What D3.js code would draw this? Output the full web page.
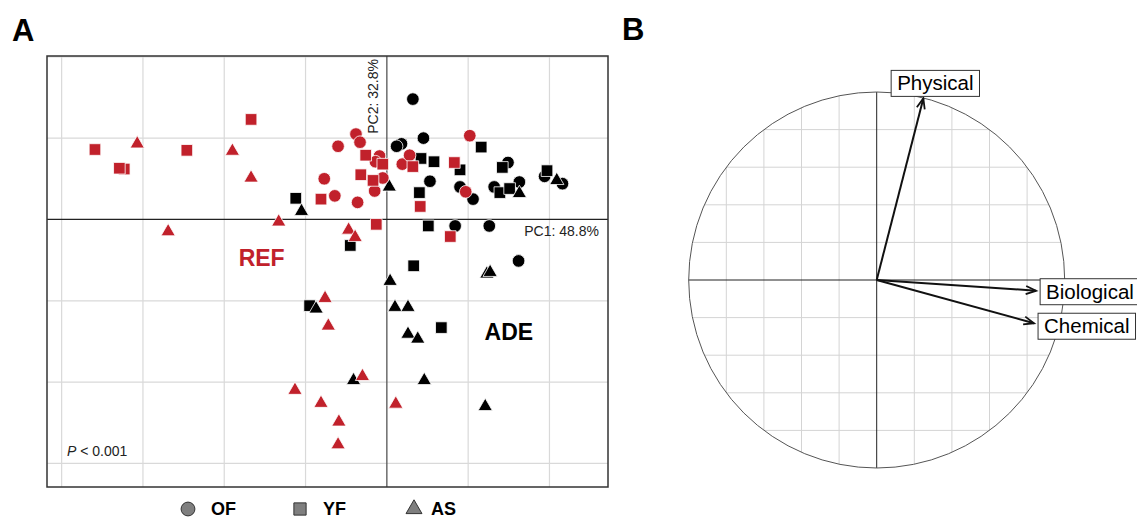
<!DOCTYPE html>
<html>
<head>
<meta charset="utf-8">
<script src="https://cdn.jsdelivr.net/npm/d3@7"></script>
<style>
  body { margin: 0; background: #fff; }
  svg { display: block; font-family: 'Liberation Sans', Arial, sans-serif; }
</style>
</head>
<body>
<svg id="chart" width="1137" height="520"></svg>
<script>
// PCA scores [PC1, PC2], by site (REF / ADE) and stand type (OF / YF / AS)
const refOF = [[-0.38,1.05],[-0.33,0.95],[-0.60,0.90],[-0.09,0.78],[-0.14,0.71],[0.19,0.68],[0.28,0.79],
  [-0.05,0.51],[-0.15,0.35],[-0.77,0.50],[-0.64,0.29],[-0.36,0.21],[1.02,1.03],[0.97,0.34]]
const refYF = [[-3.59,0.86],[-3.23,0.62],[-3.29,0.63],[-2.46,0.85],[-1.67,1.23],[-0.26,0.79],[-0.05,0.68],
  [-0.32,0.55],[-0.17,0.48],[-0.81,0.25],[0.32,0.65],[0.41,0.16],[0.83,0.70],[-0.13,-0.06],[0.78,-0.21]]
const refAS = [[-3.07,0.93],[-1.90,0.84],[-1.67,0.51],[-2.69,-0.15],[-1.33,-0.03],[-0.47,-0.13],[-0.39,-0.22],
  [-0.76,-0.97],[-0.72,-1.31],[-0.30,-1.93],[-1.13,-2.10],[-0.81,-2.26],[0.11,-2.27],[-0.59,-2.49],[-0.60,-2.77]]
const adeOF = [[0.32,1.48],[0.45,1.00],[0.18,0.93],[0.12,0.90],[0.53,0.47],[0.90,0.40],[1.06,0.25],[1.49,0.70],
  [1.32,0.40],[1.63,0.46],[1.94,0.53],[2.16,0.44],[0.84,-0.08],[1.26,-0.08],[1.62,-0.51]]
const adeYF = [[-1.12,0.26],[0.42,0.75],[0.58,0.71],[1.16,0.89],[0.90,0.61],[0.40,0.33],[1.42,0.64],[1.39,0.33],
  [1.51,0.38],[1.97,0.60],[0.51,-0.08],[-0.45,-0.32],[0.33,-0.57],[-0.95,-1.06],[0.67,-1.33]]
const adeAS = [[-1.05,0.10],[0.03,0.40],[1.63,0.32],[2.09,0.48],[1.23,-0.67],[1.27,-0.65],[0.04,-0.76],
  [-0.87,-1.10],[0.10,-1.08],[0.26,-1.08],[0.26,-1.41],[0.38,-1.47],[-0.41,-1.98],[0.46,-1.98],[1.21,-2.30]]

const standTypes = ['OF', 'YF', 'AS']
const siteLabels = [{ name: 'REF', x: -1.54, y: -0.57 }, { name: 'ADE', x: 1.50, y: -1.48 }]
const gridA = [-4, -3, -2, -1, 0, 1, 2]
const gridAy = [2, 1, 0, -1, -2, -3]
const axisPct = { pc1: 'PC1: 48.8%', pc2: 'PC2: 32.8%' }

// correlation circle (panel B)
const varNames = ['Physical', 'Biological', 'Chemical']
const varPC1 = [0.248, 0.848, 0.837]
const varPC2 = [0.966, -0.057, -0.230]
const gridB = [-0.8, -0.6, -0.4, -0.2, 0, 0.2, 0.4, 0.6, 0.8]

const red = '#c1212b'
const svg = d3.select('#chart')

// ---------- panel A ----------
const aLeft = 47, aRight = 608, aTop = 56, aBottom = 487
let x = d3.scaleLinear().domain([-4.18, 2.72]).range([aLeft, aRight])
let y = d3.scaleLinear().domain([-3.29, 2.01]).range([aBottom, aTop])

let gA = svg.append('g')
gA.selectAll('line.gx').data(gridA.filter(d => d !== 0)).enter().append('line')
    .attr('x1', d => x(d)).attr('x2', d => x(d)).attr('y1', aTop).attr('y2', aBottom)
    .attr('stroke', '#d9d9d9').attr('stroke-width', 1.2)
gA.selectAll('line.gy').data(gridAy.filter(d => d !== 0)).enter().append('line')
    .attr('y1', d => y(d)).attr('y2', d => y(d)).attr('x1', aLeft).attr('x2', aRight)
    .attr('stroke', '#d9d9d9').attr('stroke-width', 1.2)
gA.append('line').attr('x1', x(0)).attr('x2', x(0)).attr('y1', aTop).attr('y2', aBottom)
    .attr('stroke', '#555').attr('stroke-width', 1.3)
gA.append('line').attr('y1', y(0)).attr('y2', y(0)).attr('x1', aLeft).attr('x2', aRight)
    .attr('stroke', '#222').attr('stroke-width', 1.3)
gA.append('rect').attr('x', aLeft).attr('y', aTop).attr('width', aRight - aLeft).attr('height', aBottom - aTop)
    .attr('fill', 'none').attr('stroke', '#333').attr('stroke-width', 1.5)

let symType = { OF: d3.symbolCircle, YF: d3.symbolSquare, AS: d3.symbolTriangle }
let symSize = { OF: 125, YF: 135, AS: 88 }
let groups = [
  { pts: adeOF, t: 'OF', col: '#000' }, { pts: adeYF, t: 'YF', col: '#000' }, { pts: adeAS, t: 'AS', col: '#000' },
  { pts: refOF, t: 'OF', col: red }, { pts: refYF, t: 'YF', col: red }, { pts: refAS, t: 'AS', col: red }
]
groups.forEach(function(g) {
  gA.append('g').selectAll('path').data(g.pts).enter().append('path')
      .attr('d', d3.symbol().type(symType[g.t]).size(symSize[g.t]))
      .attr('transform', d => 'translate(' + x(d[0]) + ',' + y(d[1]) + ')')
      .attr('fill', g.col).attr('stroke', '#fff').attr('stroke-width', 0.8)
})

gA.selectAll('text.site').data(siteLabels).enter().append('text')
    .attr('x', d => x(d.x)).attr('y', d => y(d.y))
    .attr('text-anchor', 'middle').attr('font-weight', 'bold').attr('font-size', 23)
    .attr('fill', d => d.name === 'REF' ? red : '#000')
    .text(d => d.name)

gA.append('text').attr('x', aRight - 9).attr('y', y(0) + 17)
    .attr('text-anchor', 'end').attr('font-size', 14).attr('fill', '#222').text(axisPct.pc1)
gA.append('text').attr('transform', 'translate(' + (x(0) - 8.5) + ',' + (aTop + 3) + ') rotate(-90)')
    .attr('text-anchor', 'end').attr('font-size', 14).attr('fill', '#222').text(axisPct.pc2)

let pt = gA.append('text').attr('x', 67).attr('y', 456).attr('font-size', 14).attr('fill', '#222')
pt.append('tspan').attr('font-style', 'italic').text('P')
pt.append('tspan').text(' < 0.001')

svg.append('text').attr('x', 12).attr('y', 41).attr('font-size', 31).attr('font-weight', 'bold').text('A')
svg.append('text').attr('x', 622).attr('y', 40).attr('font-size', 31).attr('font-weight', 'bold').text('B')

// legend
let legX = [188, 300, 414]
let leg = svg.append('g')
standTypes.forEach(function(t, i) {
  leg.append('path')
      .attr('d', d3.symbol().type(symType[t]).size(t === 'AS' ? 110 : 150))
      .attr('transform', 'translate(' + legX[i] + ',509)')
      .attr('fill', '#7f7f7f').attr('stroke', '#333').attr('stroke-width', 1)
  leg.append('text').attr('x', legX[i] + (i === 2 ? 17 : 23)).attr('y', 515)
      .attr('font-size', 18).attr('font-weight', 'bold').text(t)
})

// ---------- panel B ----------
const cx = 876.7, cy = 280, r = 188
let bx = d3.scaleLinear().domain([-1, 1]).range([cx - r, cx + r])
let by = d3.scaleLinear().domain([-1, 1]).range([cy + r, cy - r])
let gB = svg.append('g')

gB.selectAll('line.bgx').data(gridB.filter(d => d !== 0)).enter().append('line')
    .attr('x1', d => bx(d)).attr('x2', d => bx(d))
    .attr('y1', d => by(Math.sqrt(1 - d * d))).attr('y2', d => by(-Math.sqrt(1 - d * d)))
    .attr('stroke', '#d4d4d4').attr('stroke-width', 1)
gB.selectAll('line.bgy').data(gridB.filter(d => d !== 0)).enter().append('line')
    .attr('y1', d => by(d)).attr('y2', d => by(d))
    .attr('x1', d => bx(-Math.sqrt(1 - d * d))).attr('x2', d => bx(Math.sqrt(1 - d * d)))
    .attr('stroke', '#d4d4d4').attr('stroke-width', 1)
gB.append('line').attr('x1', bx(0)).attr('x2', bx(0)).attr('y1', by(1)).attr('y2', by(-1))
    .attr('stroke', '#222').attr('stroke-width', 1)
gB.append('line').attr('x1', bx(-1)).attr('x2', bx(1)).attr('y1', by(0)).attr('y2', by(0))
    .attr('stroke', '#222').attr('stroke-width', 1)
gB.append('circle').attr('cx', bx(0)).attr('cy', by(0)).attr('r', bx(1) - bx(0))
    .attr('fill', 'none').attr('stroke', '#555').attr('stroke-width', 1)

varNames.forEach(function(name, i) {
  let x1 = bx(varPC1[i]), y1 = by(varPC2[i])
  let x0 = bx(0), y0 = by(0)
  let ang = Math.atan2(y1 - y0, x1 - x0)
  let len = 11, spread = 0.38
  gB.append('line').attr('x1', x0).attr('y1', y0).attr('x2', x1).attr('y2', y1)
      .attr('stroke', '#111').attr('stroke-width', 2)
  gB.append('path')
      .attr('d', 'M' + (x1 - len * Math.cos(ang - spread)) + ',' + (y1 - len * Math.sin(ang - spread)) +
        'L' + x1 + ',' + y1 +
        'L' + (x1 - len * Math.cos(ang + spread)) + ',' + (y1 - len * Math.sin(ang + spread)))
      .attr('fill', 'none').attr('stroke', '#111').attr('stroke-width', 1.8)

  // label box placed outside the arrow end (ade4 style)
  let lab = gB.append('g')
  let txt = lab.append('text').attr('font-size', 20.5).attr('fill', '#000').text(name)
  let w = txt.node().getComputedTextLength() + 12, h = 26
  let lx, ly
  if (Math.abs(varPC1[i]) >= Math.abs(varPC2[i])) {
    lx = x1 + 4; ly = y1 + 1 - h / 2
    if (i === 2) ly += 2
  } else {
    lx = x1 + 12 - w / 2; ly = y1 - 15 - h / 2
  }
  lab.insert('rect', 'text').attr('x', lx).attr('y', ly).attr('width', w).attr('height', h)
      .attr('fill', '#fff').attr('stroke', '#333').attr('stroke-width', 1)
  txt.attr('x', lx + 6).attr('y', ly + 20)
})
</script>
</body>
</html>
